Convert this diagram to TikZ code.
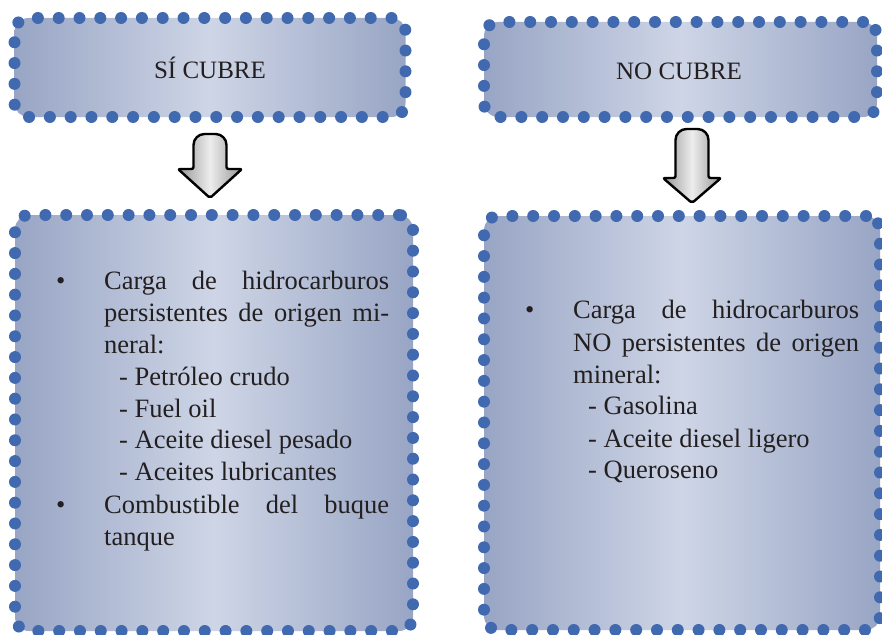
\documentclass[tikz,border=0pt]{standalone}
\usepackage{fontspec}
\setmainfont{Liberation Serif}
\definecolor{dotblue}{HTML}{4169B0}
\definecolor{boxedge}{HTML}{98A5C4}
\definecolor{boxmid}{HTML}{CED5E6}
\definecolor{txt}{HTML}{231F20}
\definecolor{arrdark}{HTML}{959595}
\definecolor{arrlight}{HTML}{EDEDED}
\begin{document}
\begin{tikzpicture}[x=1pt,y=-1pt,
  dotbox/.style={rectangle, rounded corners=14pt, inner sep=0pt,
    left color=boxedge, right color=boxedge, middle color=boxmid,
    draw=dotblue, line width=12pt, line cap=round, dash pattern=on 0pt off 20.8pt},
  body/.style={anchor=base west, inner sep=0pt, text=txt, font=\fontsize{26.5}{32}\selectfont},
  head/.style={anchor=base, inner sep=0pt, text=txt, font=\fontsize{25}{30}\selectfont},
  blockarrow/.style={left color=arrdark, right color=arrdark, middle color=arrlight,
    draw=black, line width=2.4pt, line join=round}]
\useasboundingbox (0,0) rectangle (882,634);

% boxes
\node[dotbox, minimum width=391pt, minimum height=99pt] (tl) at (210,67.5) {};
\node[dotbox, minimum width=393pt, minimum height=95pt] (tr) at (680.5,69.5) {};
\node[dotbox, minimum width=398pt, minimum height=416pt] (bl) at (214,423) {};
\node[dotbox, minimum width=396pt, minimum height=414pt] (br) at (682,423) {};

% titles
\node[head] (t1) at (210,78) {SÍ CUBRE};
\node[head] (t2) at (679,79) {NO CUBRE};

% block arrows
\shadedraw[blockarrow, rounded corners=2pt] (193.5,169) [rounded corners=11pt] -- (193.5,134) -- (226.5,134) [rounded corners=2pt] -- (226.5,169) -- (242,169) -- (210,198) -- (178,169) -- cycle;
\shadedraw[blockarrow, rounded corners=2pt] (675.5,178) [rounded corners=11pt] -- (675.5,129) -- (708.5,129) [rounded corners=2pt] -- (708.5,178) -- (721,178) -- (692,203) -- (663,178) -- cycle;

% left text
\node[body] (lb1) at (56,289) {•};
\node[body] (l1) at (104,289) {\makebox[285pt][s]{Carga de hidrocarburos}};
\node[body] (l2) at (104,321) {\makebox[285pt][s]{persistentes de origen mi-}};
\node[body] (l3) at (104,353) {neral:};
\node[body] (l4) at (119,385) {- Petróleo crudo};
\node[body] (l5) at (119,417) {- Fuel oil};
\node[body] (l6) at (119,448) {- Aceite diesel pesado};
\node[body] (l7) at (119,480) {- Aceites lubricantes};
\node[body] (lb2) at (56,513) {•};
\node[body] (l8) at (104,513) {\makebox[285pt][s]{Combustible del buque}};
\node[body] (l9) at (104,545) {tanque};

% right text
\node[body] (rb1) at (525,318) {•};
\node[body] (r1) at (573,318) {\makebox[286pt][s]{Carga de hidrocarburos}};
\node[body] (r2) at (573,351) {\makebox[286pt][s]{NO persistentes de origen}};
\node[body] (r3) at (573,383) {mineral:};
\node[body] (r4) at (588,414) {- Gasolina};
\node[body] (r5) at (588,447) {- Aceite diesel ligero};
\node[body] (r6) at (588,478) {- Queroseno};
\end{tikzpicture}
\end{document}
